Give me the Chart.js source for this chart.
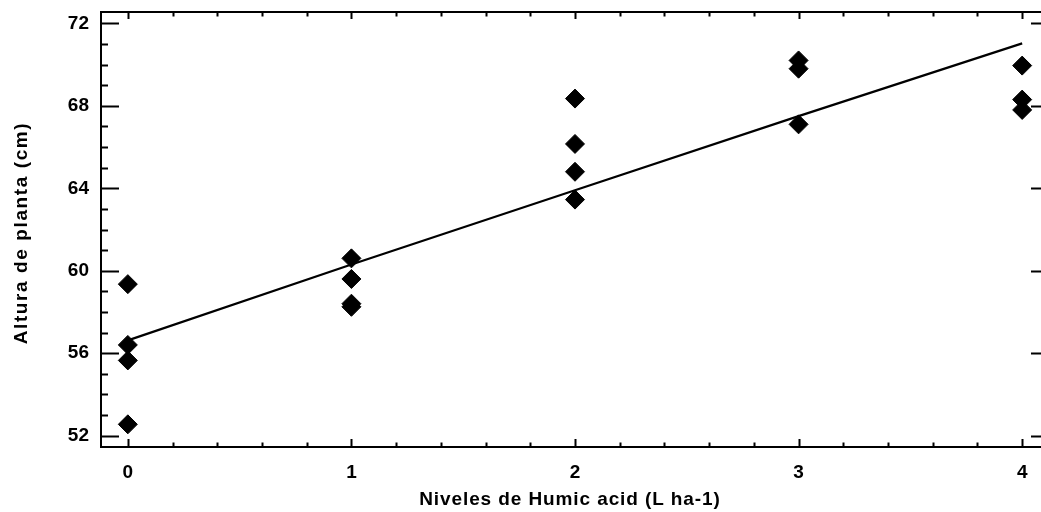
<!DOCTYPE html>
<html>
<head>
<meta charset="utf-8">
<script src="https://cdn.jsdelivr.net/npm/chart.js@4.4.0/dist/chart.umd.min.js"></script>
<style>
  html, body { margin: 0; padding: 0; overflow: hidden; background: #fff; }
  canvas { display: block; }
</style>
</head>
<body>
<canvas id="grafico" width="1041" height="512"></canvas>
<script>
// Observaciones (niveles de ácido húmico vs altura)
const niveles = [0, 0, 0, 0, 1, 1, 1, 1, 2, 2, 2, 2, 3, 3, 3, 4, 4, 4];
const alturas = [59.35, 56.4, 55.65, 52.55, 60.6, 59.6, 58.4, 58.25,
  68.35, 66.15, 64.8, 63.45, 70.2, 69.8, 67.1, 69.95, 68.3, 67.8];

// Recta ajustada
const rectaX = [0, 1, 2, 3, 4];
const rectaY = [56.62, 60.3, 63.9, 67.5, 71.03];

// Etiquetas de los ejes
const ticksX = [0, 1, 2, 3, 4];
const ticksY = [52, 56, 60, 64, 68, 72];
const tituloX = "Niveles de Humic acid (L ha-1)";
const tituloY = "Altura de planta (cm)";

const fuente = "'Liberation Sans', Arial, sans-serif";
const BORDE_DERECHO = 1049; // el marco derecho queda fuera de la imagen
const BORDE_SUPERIOR = 12;

// fijar el área del gráfico como en el original
const areaPlugin = {
  id: "area",
  afterLayout(chart) {
    const sx = chart.scales.x;
    sx.right = BORDE_DERECHO;
    sx.width = sx.right - sx.left;
    sx.configure();
    const sy = chart.scales.y;
    sy.top = BORDE_SUPERIOR;
    sy.height = sy.bottom - sy.top;
    sy.configure();
    const a = chart.chartArea;
    a.right = BORDE_DERECHO;
    a.width = a.right - a.left;
    a.top = BORDE_SUPERIOR;
    a.height = a.bottom - a.top;
  },
};

// marco, marcas hacia adentro y títulos de los ejes
const marcoPlugin = {
  id: "marco",
  afterDraw(chart) {
    const { ctx, chartArea: a, scales } = chart;
    const sx = scales.x, sy = scales.y;
    ctx.save();
    ctx.strokeStyle = "#000";
    ctx.lineWidth = 2;
    ctx.strokeRect(a.left, a.top, a.right - a.left, a.bottom - a.top);

    // eje Y: mayores cada 4, menores cada 1
    for (let v = 52; v <= 72; v++) {
      const y = Math.round(sy.getPixelForValue(v)) + 0.5;
      const largo = ticksY.includes(v) ? 18 : 7;
      ctx.beginPath();
      ctx.moveTo(a.left, y);
      ctx.lineTo(a.left + largo, y);
      ctx.moveTo(a.right, y);
      ctx.lineTo(a.right - largo, y);
      ctx.stroke();
    }
    // eje X: mayores cada 1, menores cada 0.2
    for (let i = 0; i <= 20; i++) {
      const v = i / 5;
      const x = Math.round(sx.getPixelForValue(v)) + 0.5;
      const mayor = i % 5 === 0;
      ctx.beginPath();
      ctx.moveTo(x, a.bottom);
      ctx.lineTo(x, a.bottom - (mayor ? 8 : 4.5));
      ctx.moveTo(x, a.top);
      ctx.lineTo(x, a.top + (mayor ? 7 : 4.5));
      ctx.stroke();
    }

    // títulos (un poco más anchos, como en el original)
    ctx.fillStyle = "#000";
    ctx.font = "bold 19px " + fuente;
    ctx.textAlign = "center";
    ctx.textBaseline = "middle";
    ctx.letterSpacing = "0.9px";
    ctx.fillText(tituloX, 570, 500);

    ctx.letterSpacing = "1.6px";
    ctx.translate(22, 233);
    ctx.rotate(-Math.PI / 2);
    ctx.fillText(tituloY, 0, 0);
    ctx.restore();
  },
};

const ctx = document.getElementById("grafico");

new Chart(ctx.getContext("2d"), {
  type: "scatter",
  data: {
    datasets: [
      {
        label: "Observado",
        data: niveles.map((n, i) => ({ x: n, y: alturas[i] })),
        pointStyle: "rectRot",
        pointRadius: 9.5,
        pointBorderWidth: 1,
        backgroundColor: "#000",
        borderColor: "#000",
        pointHoverRadius: 9.5,
      },
      {
        label: "Ajuste",
        data: rectaX.map((n, i) => ({ x: n, y: rectaY[i] })),
        showLine: true,
        pointRadius: 0,
        borderColor: "#000",
        borderWidth: 2.2,
        fill: false,
      },
    ],
  },
  options: {
    responsive: false,
    animation: false,
    devicePixelRatio: 1,
    layout: { padding: { top: 12, right: 2, left: 0, bottom: 0 } },
    plugins: {
      legend: { display: false },
      tooltip: { enabled: false },
    },
    scales: {
      x: {
        type: "linear",
        min: -0.12,
        max: 4.12,
        afterBuildTicks: (s) => { s.ticks = ticksX.map((v) => ({ value: v })); },
        afterFit: (s) => { s.height = 65; },
        grid: { display: false, drawTicks: false },
        border: { display: false },
        ticks: {
          color: "#000",
          padding: 14,
          font: { family: fuente, size: 19, weight: "bold" },
        },
      },
      y: {
        min: 51.45,
        max: 72.55,
        afterBuildTicks: (s) => { s.ticks = ticksY.map((v) => ({ value: v })); },
        afterFit: (s) => { s.width = 101; },
        grid: { display: false, drawTicks: false },
        border: { display: false },
        ticks: {
          color: "#000",
          padding: 12,
          font: { family: fuente, size: 19, weight: "bold" },
        },
      },
    },
  },
  plugins: [areaPlugin, marcoPlugin],
});
</script>
</body>
</html>
